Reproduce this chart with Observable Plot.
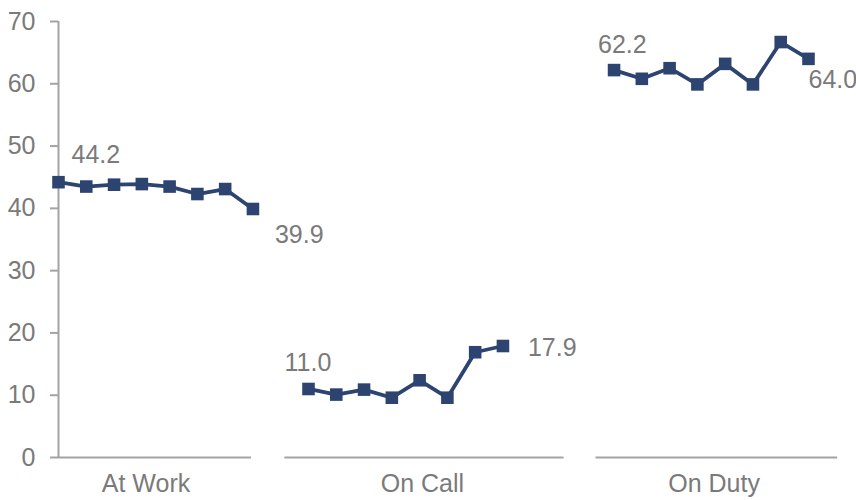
<!DOCTYPE html>
<html>
<head>
<meta charset="utf-8">
<script src="https://cdn.jsdelivr.net/npm/d3@7"></script>
<script src="https://cdn.jsdelivr.net/npm/@observablehq/plot@0.6"></script>
<style>
  html, body { margin: 0; padding: 0; background: #ffffff; }
  #chart svg { display: block; }
</style>
</head>
<body>
<div id="chart"></div>
<script>
// Three groups of eight readings each
const categories = ["At Work", "On Call", "On Duty"];
const atWork = [44.2, 43.5, 43.8, 43.9, 43.5, 42.3, 43.1, 39.9];
const onCall = [11.0, 10.1, 10.9, 9.6, 12.4, 9.6, 16.9, 17.9];
const onDuty = [62.2, 60.8, 62.5, 59.9, 63.2, 59.9, 66.7, 64.0];
const yTicks = [0, 10, 20, 30, 40, 50, 60, 70];

// Layout along the shared slot axis: first slot of each group,
// extent of each group's baseline, and where each group name sits
const groupStart = [0, 9, 20];
const groupSpan = [[0, 6.95], [8.15, 18.2], [19.35, 28.05]];
const groupLabelAt = [3.15, 13.1, 23.6];
// Pixel offsets for the first / last value labels of each group
const firstLabelOffset = [[13, -27], [-24, -26], [-16, -25.5]];
const lastLabelOffset = [[22, 26], [25, 1.5], [0, 21]];

const seriesValues = [atWork, onCall, onDuty];
const rows = seriesValues.flatMap((vals, g) =>
  vals.map((v, i) => ({ group: categories[g], g, i, n: vals.length, slot: groupStart[g] + i, value: v }))
);
const firstRows = rows.filter(d => d.i === 0);
const lastRows = rows.filter(d => d.i === d.n - 1);

const navy = "#2d4470";
const grayLine = "#a3a3a3";
const grayText = "#7a7a7a";

const valueLabel = (d, offset) => Plot.text([d], {
  x: "slot", y: "value", text: r => r.value.toFixed(1),
  textAnchor: "start", fill: grayText, fontSize: 25,
  dx: offset[0], dy: offset[1]
});

const chart = Plot.plot({
  width: 856,
  height: 500,
  marginLeft: 58,
  marginRight: 48,
  marginTop: 21,
  marginBottom: 43,
  style: { fontFamily: "'Liberation Sans', Arial, sans-serif", fontSize: "25px", background: "#ffffff" },
  x: { domain: [0, 27], axis: null },
  y: { domain: [0, 70], axis: null },
  marks: [
    Plot.axisY({
      ticks: yTicks,
      tickSize: 8,
      tickPadding: 15,
      tickFormat: d => String(d),
      stroke: grayLine,
      strokeWidth: 2,
      fill: grayText,
      fontSize: 25,
      label: null
    }),
    Plot.ruleX([0], { y1: 0, y2: 70, stroke: grayLine, strokeWidth: 2 }),
    Plot.ruleY(groupSpan, { y: () => 0, x1: d => d[0], x2: d => d[1], stroke: grayLine, strokeWidth: 2 }),
    Plot.line(rows, { x: "slot", y: "value", z: "group", stroke: navy, strokeWidth: 3.8, strokeLinejoin: "round" }),
    Plot.dot(rows, { x: "slot", y: "value", symbol: "square", r: 7.1, fill: navy, stroke: "none" }),
    ...firstRows.map(d => valueLabel(d, firstLabelOffset[d.g])),
    ...lastRows.map(d => valueLabel(d, lastLabelOffset[d.g])),
    Plot.text(categories, {
      x: (d, i) => groupLabelAt[i], y: () => 0, text: d => d,
      textAnchor: "middle", fill: grayText, fontSize: 25, dy: 26
    })
  ]
});

document.getElementById("chart").appendChild(chart);
</script>
</body>
</html>
